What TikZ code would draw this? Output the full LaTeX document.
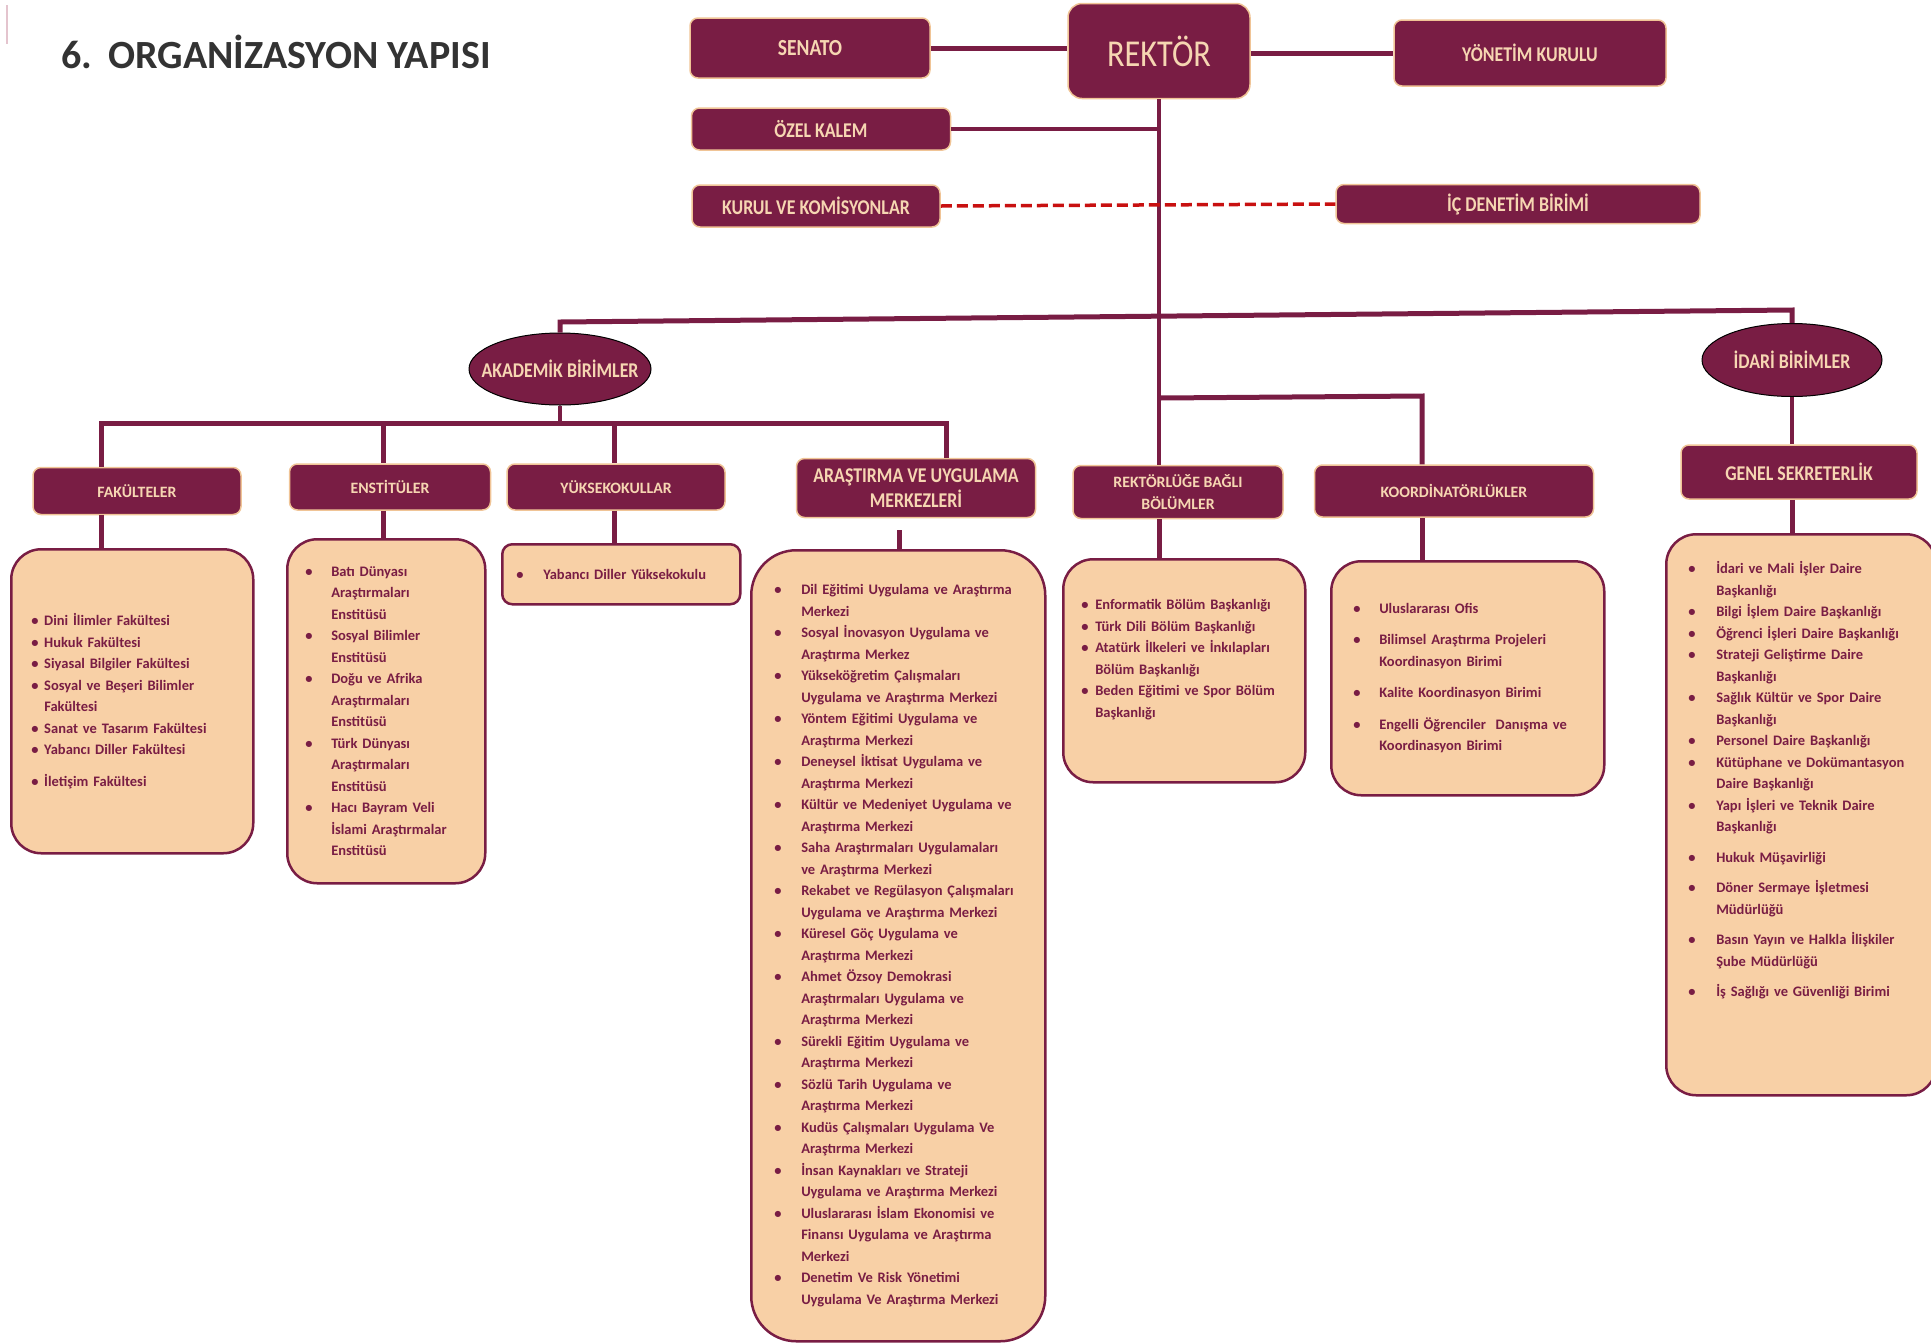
\documentclass[tikz,border=0pt]{standalone}
\usepackage{fontspec}
\setmainfont{Carlito}
\newfontfamily\condfont{Carlito}[FakeStretch=0.85]
\usetikzlibrary{shapes.geometric}

\definecolor{bordo}{RGB}{121,29,68}
\definecolor{seftali}{RGB}{248,208,166}
\definecolor{basliktext}{RGB}{246,214,178}
\definecolor{kenar}{RGB}{240,196,150}
\definecolor{kesikkirmizi}{RGB}{200,16,16}
\definecolor{gri}{RGB}{51,51,51}

\newlength{\madw}
\newcommand{\bul}{\makebox[\madw][l]{\textbullet}}
\newcommand{\gir}{\hspace*{\madw}}

\begin{document}
\begin{tikzpicture}[x=1pt, y=-1pt,
  kutu/.style={fill=bordo, draw=kenar, line width=1.5pt, rounded corners=8pt, text=basliktext, align=center, inner sep=2pt, font={\condfont\bfseries\fontsize{21}{25}\selectfont}},
  altkutu/.style={kutu, font={\bfseries\fontsize{15.8}{22}\selectfont}},
  liste/.style={fill=seftali, draw=bordo, line width=2.5pt, rounded corners=30pt, anchor=north west, align=left, text=bordo, inner ysep=0pt, font={\bfseries\fontsize{14.5}{21.5}\selectfont}},
  birim/.style={ellipse, fill=bordo, draw=black, line width=1pt, text=basliktext, inner sep=0pt, font={\condfont\bfseries\fontsize{21}{22}\selectfont}},
  hat/.style={draw=bordo, line width=5pt},
  ince/.style={draw=bordo, line width=3.5pt},
  kesik/.style={draw=kesikkirmizi, line width=3.5pt, dash pattern=on 11pt off 5pt},
]
\useasboundingbox (0,0) rectangle (1931,1342);

% Baslik
\draw[draw={rgb,255:red,228;green,196;blue,206}, line width=2pt] (7,5) -- (7,44);
\node[anchor=west, text=gri, font={\bfseries\fontsize{40}{44}\selectfont}] (baslik) at (58,52) {6.\hspace{16pt}ORGANİZASYON YAPISI};

% Ust kademe
\node[kutu, minimum width=240, minimum height=60, font={\condfont\bfseries\fontsize{23}{25}\selectfont}] (senato) at (810,48) {SENATO};
\node[kutu, minimum width=182, minimum height=95, rounded corners=14pt, font={\condfont\fontsize{38}{40}\selectfont}] (rektor) at (1159,51) {REKTÖR};
\node[kutu, minimum width=272, minimum height=66] (yonetim) at (1530,53) {YÖNETİM KURULU};
\node[kutu, minimum width=259, minimum height=42] (ozel) at (821,129) {ÖZEL KALEM};
\node[kutu, minimum width=248, minimum height=42] (kurul) at (816,206) {KURUL VE KOMİSYONLAR};
\node[kutu, minimum width=364, minimum height=39] (icdenetim) at (1518,204) {İÇ DENETİM BİRİMİ};

% Birimler
\node[birim, minimum width=182, minimum height=72] (akad) at (560,369) {\makebox[0pt]{AKADEMİK BİRİMLER}};
\node[birim, minimum width=180, minimum height=73] (idari) at (1792,360) {\makebox[0pt]{İDARİ BİRİMLER}};

% Alt basliklar
\node[altkutu, minimum width=208, minimum height=47] (fakHead) at (137,491) {FAKÜLTELER};
\node[altkutu, minimum width=201, minimum height=46] (ensHead) at (390,487) {ENSTİTÜLER};
\node[altkutu, minimum width=218, minimum height=46] (yukHead) at (616,487) {YÜKSEKOKULLAR};
\node[kutu, minimum width=239, minimum height=59] (arsHead) at (916,488) {ARAŞTIRMA VE UYGULAMA\\MERKEZLERİ};
\node[altkutu, minimum width=210, minimum height=53] (rekHead) at (1178,492) {REKTÖRLÜĞE BAĞLI\\BÖLÜMLER};
\node[altkutu, minimum width=279, minimum height=52] (korHead) at (1454,491) {KOORDİNATÖRLÜKLER};
\node[kutu, minimum width=236, minimum height=54] (genHead) at (1799,472) {GENEL SEKRETERLİK};

% Listeler
\node[liste, inner xsep=20, text width=202, minimum height=304] (fakList) at (10,548) {\setlength{\madw}{13pt}%
\bul Dini İlimler Fakültesi\\
\bul Hukuk Fakültesi\\
\bul Siyasal Bilgiler Fakültesi\\
\bul Sosyal ve Beşeri Bilimler\\
\gir Fakültesi\\
\bul Sanat ve Tasarım Fakültesi\\
\bul Yabancı Diller Fakültesi\\[10pt]
\bul İletişim Fakültesi};

\node[liste, inner xsep=18, text width=162, minimum height=344] (ensList) at (286,538) {\setlength{\madw}{26pt}%
\bul Batı Dünyası\\
\gir Araştırmaları\\
\gir Enstitüsü\\
\bul Sosyal Bilimler\\
\gir Enstitüsü\\
\bul Doğu ve Afrika\\
\gir Araştırmaları\\
\gir Enstitüsü\\
\bul Türk Dünyası\\
\gir Araştırmaları\\
\gir Enstitüsü\\
\bul Hacı Bayram Veli\\
\gir İslami Araştırmalar\\
\gir Enstitüsü};

\node[liste, rounded corners=10pt, inner xsep=14, text width=210, minimum height=60] (yukList) at (501,543) {\setlength{\madw}{27pt}%
\bul Yabancı Diller Yüksekokulu};

\node[liste, rounded corners=45pt, inner xsep=23, text width=248, minimum height=791] (arsList) at (750,549) {\setlength{\madw}{27pt}%
\bul Dil Eğitimi Uygulama ve Araştırma\\
\gir Merkezi\\
\bul Sosyal İnovasyon Uygulama ve\\
\gir Araştırma Merkez\\
\bul Yükseköğretim Çalışmaları\\
\gir Uygulama ve Araştırma Merkezi\\
\bul Yöntem Eğitimi Uygulama ve\\
\gir Araştırma Merkezi\\
\bul Deneysel İktisat Uygulama ve\\
\gir Araştırma Merkezi\\
\bul Kültür ve Medeniyet Uygulama ve\\
\gir Araştırma Merkezi\\
\bul Saha Araştırmaları Uygulamaları\\
\gir ve Araştırma Merkezi\\
\bul Rekabet ve Regülasyon Çalışmaları\\
\gir Uygulama ve Araştırma Merkezi\\
\bul Küresel Göç Uygulama ve\\
\gir Araştırma Merkezi\\
\bul Ahmet Özsoy Demokrasi\\
\gir Araştırmaları Uygulama ve\\
\gir Araştırma Merkezi\\
\bul Sürekli Eğitim Uygulama ve\\
\gir Araştırma Merkezi\\
\bul Sözlü Tarih Uygulama ve\\
\gir Araştırma Merkezi\\
\bul Kudüs Çalışmaları Uygulama Ve\\
\gir Araştırma Merkezi\\
\bul İnsan Kaynakları ve Strateji\\
\gir Uygulama ve Araştırma Merkezi\\
\bul Uluslararası İslam Ekonomisi ve\\
\gir Finansı Uygulama ve Araştırma\\
\gir Merkezi\\
\bul Denetim Ve Risk Yönetimi\\
\gir Uygulama Ve Araştırma Merkezi};

\node[liste, inner xsep=18, text width=206, minimum height=223] (rekList) at (1062,558) {\setlength{\madw}{14pt}%
\bul Enformatik Bölüm Başkanlığı\\
\bul Türk Dili Bölüm Başkanlığı\\
\bul Atatürk İlkeleri ve İnkılapları\\
\gir Bölüm Başkanlığı\\
\bul Beden Eğitimi ve Spor Bölüm\\
\gir Başkanlığı\\[3pt]
\mbox{}};

\node[liste, inner xsep=22, text width=229, minimum height=234] (korList) at (1330,560) {\setlength{\madw}{26pt}%
\bul Uluslararası Ofis\\[10pt]
\bul Bilimsel Araştırma Projeleri\\
\gir Koordinasyon Birimi\\[10pt]
\bul Kalite Koordinasyon Birimi\\[10pt]
\bul Engelli Öğrenciler\ \ Danışma ve\\
\gir Koordinasyon Birimi};

\node[liste, inner xsep=22, text width=226, minimum height=561] (genList) at (1665,533) {\setlength{\madw}{28pt}%
\bul İdari ve Mali İşler Daire\\
\gir Başkanlığı\\
\bul Bilgi İşlem Daire Başkanlığı\\
\bul Öğrenci İşleri Daire Başkanlığı\\
\bul Strateji Geliştirme Daire\\
\gir Başkanlığı\\
\bul Sağlık Kültür ve Spor Daire\\
\gir Başkanlığı\\
\bul Personel Daire Başkanlığı\\
\bul Kütüphane ve Dokümantasyon\\
\gir Daire Başkanlığı\\
\bul Yapı İşleri ve Teknik Daire\\
\gir Başkanlığı\\[9pt]
\bul Hukuk Müşavirliği\\[9pt]
\bul Döner Sermaye İşletmesi\\
\gir Müdürlüğü\\[9pt]
\bul Basın Yayın ve Halkla İlişkiler\\
\gir Şube Müdürlüğü\\[9pt]
\bul İş Sağlığı ve Güvenliği Birimi\\[50pt]
\mbox{}};

% Baglantilar
\coordinate (topL) at (560,322);
\coordinate (topR) at (1792,310);
\coordinate (korJoint) at (1160,398);
\coordinate (korBend) at (1422,396);
\coordinate (fakDrop) at (101,423);
\coordinate (ensDrop) at (383,423);
\coordinate (yukDrop) at (614,423);
\coordinate (arsDrop) at (946,423);
\coordinate (arsStem) at (899,530);

\draw[hat] (senato.east) -- (senato.east -| rektor.west);
\draw[hat] (yonetim.west -| rektor.east) -- (yonetim.west);
\draw[ince] (rektor.south) -- (rektor.south |- rekHead.north);
\draw[ince] (ozel.east) -- (ozel.east -| rektor.south);
\draw[kesik] (kurul.east) -- (icdenetim.west);

\draw[hat] (akad.north) -- (topL) -- (topR) -- (idari.north);
\draw[hat] (korJoint) -- (korBend) -- (korBend |- korHead.north);

\draw[ince] (akad.south) -- (akad.south |- fakDrop);
\draw[hat] (fakHead.north -| fakDrop) -- (fakDrop) -- (arsDrop) -- (arsHead.north -| arsDrop);
\draw[hat] (ensDrop) -- (ensHead.north -| ensDrop);
\draw[hat] (yukDrop) -- (yukHead.north -| yukDrop);
\draw[ince] (idari.south) -- (idari.south |- genHead.north);

\draw[hat] (fakHead.south -| fakDrop) -- (fakList.north -| fakDrop);
\draw[hat] (ensHead.south -| ensDrop) -- (ensList.north -| ensDrop);
\draw[hat] (yukHead.south -| yukDrop) -- (yukList.north -| yukDrop);
\draw[hat] (arsStem) -- (arsStem |- arsList.north);
\draw[hat] (rekHead.south -| rektor.south) -- (rekList.north -| rektor.south);
\draw[hat] (korHead.south -| korBend) -- (korList.north -| korBend);
\draw[hat] (genHead.south -| idari.south) -- (genList.north -| idari.south);
\end{tikzpicture}
\end{document}
